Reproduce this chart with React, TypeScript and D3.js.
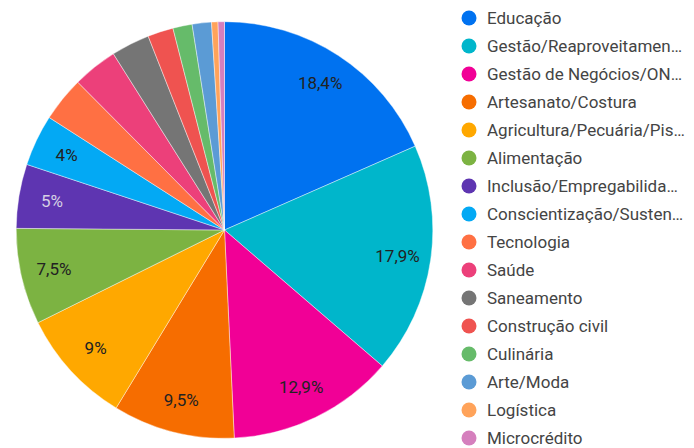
import React from "react";
import * as d3 from "d3";

const categories = [
  "Educação",
  "Gestão/Reaproveitamen…",
  "Gestão de Negócios/ON…",
  "Artesanato/Costura",
  "Agricultura/Pecuária/Pis…",
  "Alimentação",
  "Inclusão/Empregabilida…",
  "Conscientização/Susten…",
  "Tecnologia",
  "Saúde",
  "Saneamento",
  "Construção civil",
  "Culinária",
  "Arte/Moda",
  "Logística",
  "Microcrédito",
];
const counts = [37, 36, 26, 19, 18, 15, 10, 8, 7, 7, 6, 4, 3, 3, 1, 1];
const colors = [
  "#0072f0", "#00b6cb", "#f10096", "#f66d00", "#ffa800", "#7cb342",
  "#5e35b1", "#03a9f4", "#ff7043", "#ec407a", "#757575", "#ef5350",
  "#66bb6a", "#5b9bd5", "#ffa35a", "#d57fbd",
];
const labelColors = ["#222", "#222", "#222", "#222", "#222", "#222", "#d6d0e4", "#222"];
const labelMinPct = 3.9;

const W = 694, H = 448;
const cx = 224.5, cy = 230, R = 208.3;

export default function App() {
  const total = d3.sum(counts);
  const pie = d3.pie<number>().value((d) => d).sort(null);
  const arcs = pie(counts);
  const arc = d3.arc<d3.PieArcDatum<number>>().innerRadius(0).outerRadius(R);
  const labelArc = d3.arc<d3.PieArcDatum<number>>().innerRadius(R * 0.84).outerRadius(R * 0.84);
  const fmt = (v: number) => d3.format(".1~f")(v).replace(".", ",") + "%";
  const legendY = d3.scalePoint<number>().domain(d3.range(categories.length)).range([18, 438]);

  return (
    <svg width={W} height={H} style={{ position: "absolute", left: 0, top: 0, background: "#fff" }}
      fontFamily="Roboto, sans-serif">
      <g transform={`translate(${cx},${cy})`}>
        {arcs.map((a, i) => (
          <path key={i} d={arc(a) || ""} fill={colors[i]} stroke="#fff" strokeWidth={0.6} strokeOpacity={0.7} />
        ))}
        {arcs.map((a, i) => {
          const pct = (a.data / total) * 100;
          if (pct < labelMinPct) return null;
          const [x, y] = labelArc.centroid(a);
          return (
            <text key={i} x={x} y={y} textAnchor="middle" dominantBaseline="central"
              fontSize={17} fill={labelColors[i] || "#222"}>
              {fmt(pct)}
            </text>
          );
        })}
      </g>
      {categories.map((c, i) => (
        <g key={c}>
          <circle cx={469} cy={legendY(i)} r={7.5} fill={colors[i]} />
          <text x={487} y={legendY(i)} dominantBaseline="central" fontSize={17} fill="#444">
            {c}
          </text>
        </g>
      ))}
    </svg>
  );
}
